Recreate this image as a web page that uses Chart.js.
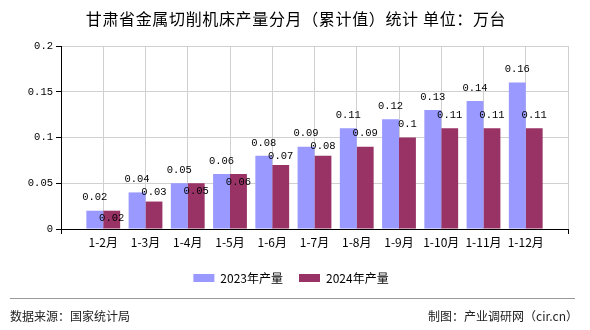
<!DOCTYPE html>
<html>
<head>
<meta charset="utf-8">
<script src="https://cdn.jsdelivr.net/npm/chart.js@4.4.1/dist/chart.umd.min.js"></script>
<style>
  html, body { margin: 0; padding: 0; background: #fff; }
  #wrap { position: relative; width: 590px; height: 330px; overflow: hidden; }
  #c { position: absolute; left: 0; top: 0; }
  #title { position: absolute; left: 0; width: 592px; top: 6px; text-align: center; letter-spacing: 0.65px;
           font: 16px "Noto Sans CJK SC", sans-serif; color: #000; white-space: nowrap; }
  #rule { position: absolute; left: 10px; width: 565px; top: 298px; height: 0; border-top: 1px solid #999; }
  .foot { position: absolute; top: 307px; font: 12px "Noto Sans CJK SC", sans-serif; color: #222; white-space: nowrap; }
</style>
</head>
<body>
<div id="wrap">
  <canvas id="c" width="590" height="330"></canvas>
  <div id="title">甘肃省金属切削机床产量分月（累计值）统计 单位：万台</div>
  <div id="rule"></div>
  <div class="foot" style="left:10px">数据来源：国家统计局</div>
  <div class="foot" style="right:12px">制图：产业调研网（cir.cn）</div>
</div>
<script>
const categories = ['1-2月','1-3月','1-4月','1-5月','1-6月','1-7月','1-8月','1-9月','1-10月','1-11月','1-12月'];
const series2023 = [0.02, 0.04, 0.05, 0.06, 0.08, 0.09, 0.11, 0.12, 0.13, 0.14, 0.16];
const series2024 = [0.02, 0.03, 0.05, 0.06, 0.07, 0.08, 0.09, 0.10, 0.11, 0.11, 0.11];
const yTickLabels = ['0', '0.05', '0.1', '0.15', '0.2'];
const seriesNames = ['2023年产量', '2024年产量'];

// pad the category axis with empty slots at both ends
const labels = [''].concat(categories, ['']);
const pad = arr => [null].concat(arr, [null]);

const monoFont = { family: '"Liberation Mono", "DejaVu Sans Mono", monospace', size: 10.5 };

const valueLabels = {
  id: 'valueLabels',
  afterDatasetsDraw(chart) {
    const ctx = chart.ctx;
    const m0 = chart.getDatasetMeta(0), m1 = chart.getDatasetMeta(1);
    ctx.save();
    ctx.font = '10.5px "Liberation Mono", "DejaVu Sans Mono", monospace';
    ctx.fillStyle = '#000';
    ctx.textAlign = 'center';
    ctx.textBaseline = 'middle';
    for (let i = 1; i < labels.length - 1; i++) {
      const a = m0.data[i], b = m1.data[i];
      const va = chart.data.datasets[0].data[i], vb = chart.data.datasets[1].data[i];
      const ya = a.y - 13;
      ctx.fillText(String(va), a.x, ya);
      let yb = b.y - 13;
      if (va === vb) yb = b.y + 8;
      else if (Math.abs(yb - ya) < 13) yb = ya + 13;
      ctx.fillText(String(vb), b.x, yb);
    }
    ctx.restore();
  }
};

new Chart(document.getElementById('c'), {
  type: 'bar',
  data: {
    labels: labels,
    datasets: [
      { label: seriesNames[0], data: pad(series2023), backgroundColor: '#9999FF', categoryPercentage: 0.8, barPercentage: 1.0 },
      { label: seriesNames[1], data: pad(series2024), backgroundColor: '#993366', categoryPercentage: 0.8, barPercentage: 1.0 }
    ]
  },
  options: {
    responsive: false,
    animation: false,
    devicePixelRatio: 1,
    layout: { padding: { top: 46, left: 14, right: 22, bottom: 36 } },
    plugins: {
      title: { display: false },
      tooltip: { enabled: false },
      legend: {
        position: 'bottom',
        align: 'center',
        labels: {
          boxWidth: 21, boxHeight: 8, padding: 16, color: '#000',
          font: { family: '"Noto Sans CJK SC", sans-serif', size: 12 }
        }
      }
    },
    scales: {
      x: {
        offset: false,
        grid: {
          offset: false, color: '#d0d0d0', lineWidth: 1, drawTicks: true, tickLength: 5,
          tickColor: c => (c.index === 0 || c.index === labels.length - 1) ? '#000' : 'rgba(0,0,0,0)'
        },
        border: { color: '#000', width: 1 },
        ticks: { color: '#000', padding: 1, autoSkip: false, maxRotation: 0,
                 font: { family: '"Noto Sans CJK SC", sans-serif', size: 12 } },
        afterFit: s => { s.height = 27; }
      },
      y: {
        min: 0, max: 0.2,
        grid: { color: '#d0d0d0', lineWidth: 1, drawTicks: true, tickLength: 5, tickColor: '#000' },
        border: { color: '#000', width: 1 },
        ticks: { stepSize: 0.05, color: '#000', padding: 3, font: monoFont,
                 callback: (v, i) => yTickLabels[i] },
        afterFit: s => { s.width = 47; }
      }
    }
  },
  plugins: [valueLabels]
});
</script>
</body>
</html>
